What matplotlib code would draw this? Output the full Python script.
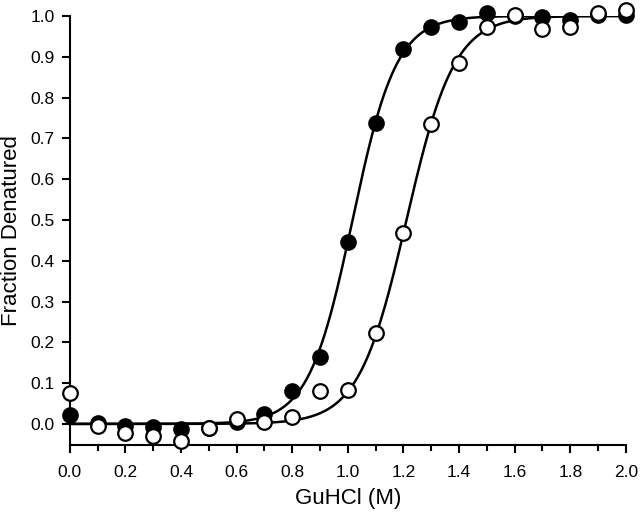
import numpy as np
import matplotlib
matplotlib.use('Agg')
import matplotlib.pyplot as plt

plt.rcParams['font.family'] = ['Liberation Sans', 'DejaVu Sans']

# GuHCl concentration (M)
conc = [0.0, 0.1, 0.2, 0.3, 0.4, 0.5, 0.6, 0.7, 0.8, 0.9, 1.0,
        1.1, 1.2, 1.3, 1.4, 1.5, 1.6, 1.7, 1.8, 1.9, 2.0]

# fraction denatured, filled symbols
filled = [0.022, 0.002, -0.005, -0.008, -0.012, -0.010, 0.005, 0.025, 0.080, 0.165, 0.446,
          0.738, 0.920, 0.973, 0.986, 1.007, 1.000, 0.998, 0.990, 1.003, 1.002]
# fraction denatured, open symbols
opened = [0.075, -0.005, -0.022, -0.030, -0.043, -0.010, 0.012, 0.005, 0.017, 0.080, 0.083,
          0.223, 0.468, 0.736, 0.885, 0.973, 1.002, 0.968, 0.972, 1.007, 1.015]

# two-state fit parameters (midpoint, slope width)
fit_filled = (1.017, 0.079)
fit_open = (1.211, 0.086)


def boltz(x, x0, dx):
    return 1.0 / (1.0 + np.exp(-(x - x0) / dx))


fig = plt.figure(figsize=(6.4, 5.14), dpi=100)
ax = fig.add_axes([0.109, 0.134, 0.869, 0.835])

xs = np.linspace(0, 2.0, 400)
ax.plot(xs, boltz(xs, *fit_filled), color='black', lw=1.8, zorder=2)
ax.plot(xs, boltz(xs, *fit_open), color='black', lw=1.8, zorder=2)

ax.plot(conc, filled, 'o', ms=10.5, mfc='black', mec='black', mew=1.5,
        clip_on=False, zorder=3)
ax.plot(conc, opened, 'o', ms=10.5, mfc='white', mec='black', mew=1.6,
        clip_on=False, zorder=4)

ax.set_xlim(0, 2.0)
ax.set_ylim(-0.052, 1.0)
ax.set_xticks(np.arange(0, 2.01, 0.2))
ax.set_xticks(np.arange(0.1, 2.0, 0.2), minor=True)
ax.set_yticks(np.arange(0, 1.01, 0.1))
ax.xaxis.set_major_formatter(matplotlib.ticker.FormatStrFormatter('%.1f'))
ax.yaxis.set_major_formatter(matplotlib.ticker.FormatStrFormatter('%.1f'))

for s in ['top', 'right']:
    ax.spines[s].set_visible(False)
for s in ['left', 'bottom']:
    ax.spines[s].set_linewidth(1.5)
ax.spines['left'].set_bounds(-0.052, 1.0)

ax.tick_params(which='major', direction='out', length=6, width=1.5, labelsize=12.5)
ax.tick_params(which='minor', direction='out', length=4, width=1.5)
ax.tick_params(axis='x', pad=8)
ax.tick_params(axis='y', pad=5)

ax.set_xlabel('GuHCl (M)', fontsize=16, labelpad=6)
ax.set_ylabel('Fraction Denatured', fontsize=16, labelpad=6)

fig.savefig('out.png', dpi=100)
